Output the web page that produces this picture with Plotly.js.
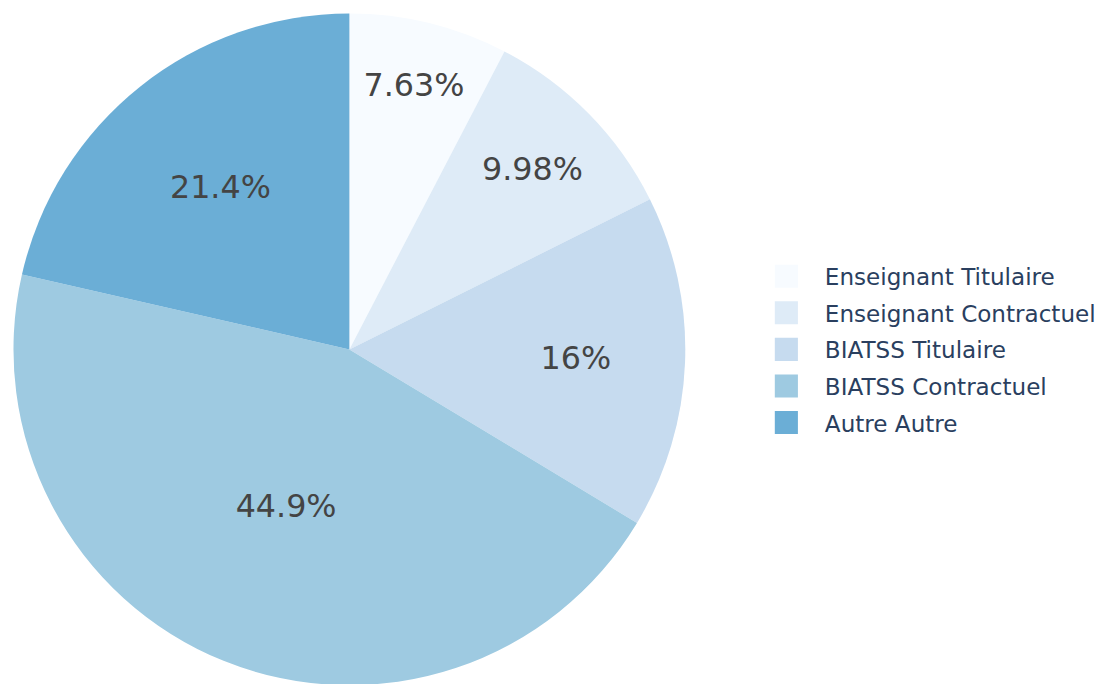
<!DOCTYPE html>
<html>
<head>
<meta charset="utf-8">
<script src="https://cdn.plot.ly/plotly-3.0.1.min.js"></script>
<style>
  html, body { margin: 0; padding: 0; overflow: hidden; background: #fff; width: 1097px; height: 684px; }
  #wrap { position: absolute; left: 0; top: 0; transform-origin: 0 0; }
</style>
</head>
<body>
<div id="wrap"><div id="chart"></div></div>
<script>
// Data
const categories = ["Enseignant Titulaire", "Enseignant Contractuel", "BIATSS Titulaire", "BIATSS Contractuel", "Autre Autre"];
const shares = [7.63, 9.98, 16, 44.9, 21.4];
const sliceColors = ["#f7fbff", "#deebf7", "#c6dbef", "#9ecae1", "#6baed6"];

// The reference is an upscaled render; draw at base size and scale up.
const S = 1.925;
const W0 = 600, H0 = 356;
const L = 7, T = 7, R = 0, B = 0;
const plotW = W0 - L - R;
const diam = H0 - T - B;

document.getElementById('wrap').style.transform = 'scale(' + S + ')';

const trace = {
  type: 'pie',
  labels: categories,
  values: shares,
  sort: false,
  direction: 'clockwise',
  rotation: 0,
  marker: { colors: sliceColors, line: { width: 0 } },
  texttemplate: '%{value}%',
  textposition: 'inside',
  insidetextorientation: 'horizontal',
  textfont: { family: 'Verdana, "DejaVu Sans", sans-serif', size: 16.5, color: '#444' },
  domain: { x: [0, diam / plotW], y: [0, 1] },
  hoverinfo: 'label+percent'
};

const layout = {
  width: W0,
  height: H0,
  margin: { l: L, r: R, t: T, b: B, pad: 0 },
  paper_bgcolor: '#fff',
  plot_bgcolor: '#fff',
  font: { family: 'Verdana, "DejaVu Sans", sans-serif', size: 12, color: '#2a3f5f' },
  showlegend: true,
  legend: {
    x: (388.5 - L) / plotW,
    xanchor: 'left',
    y: 0.5,
    yanchor: 'middle',
    font: { family: 'Verdana, "DejaVu Sans", sans-serif', size: 12, color: '#2a3f5f' },
    bgcolor: 'rgba(0,0,0,0)'
  }
};

Plotly.newPlot('chart', [trace], layout, { displayModeBar: false, staticPlot: true });
</script>
</body>
</html>
